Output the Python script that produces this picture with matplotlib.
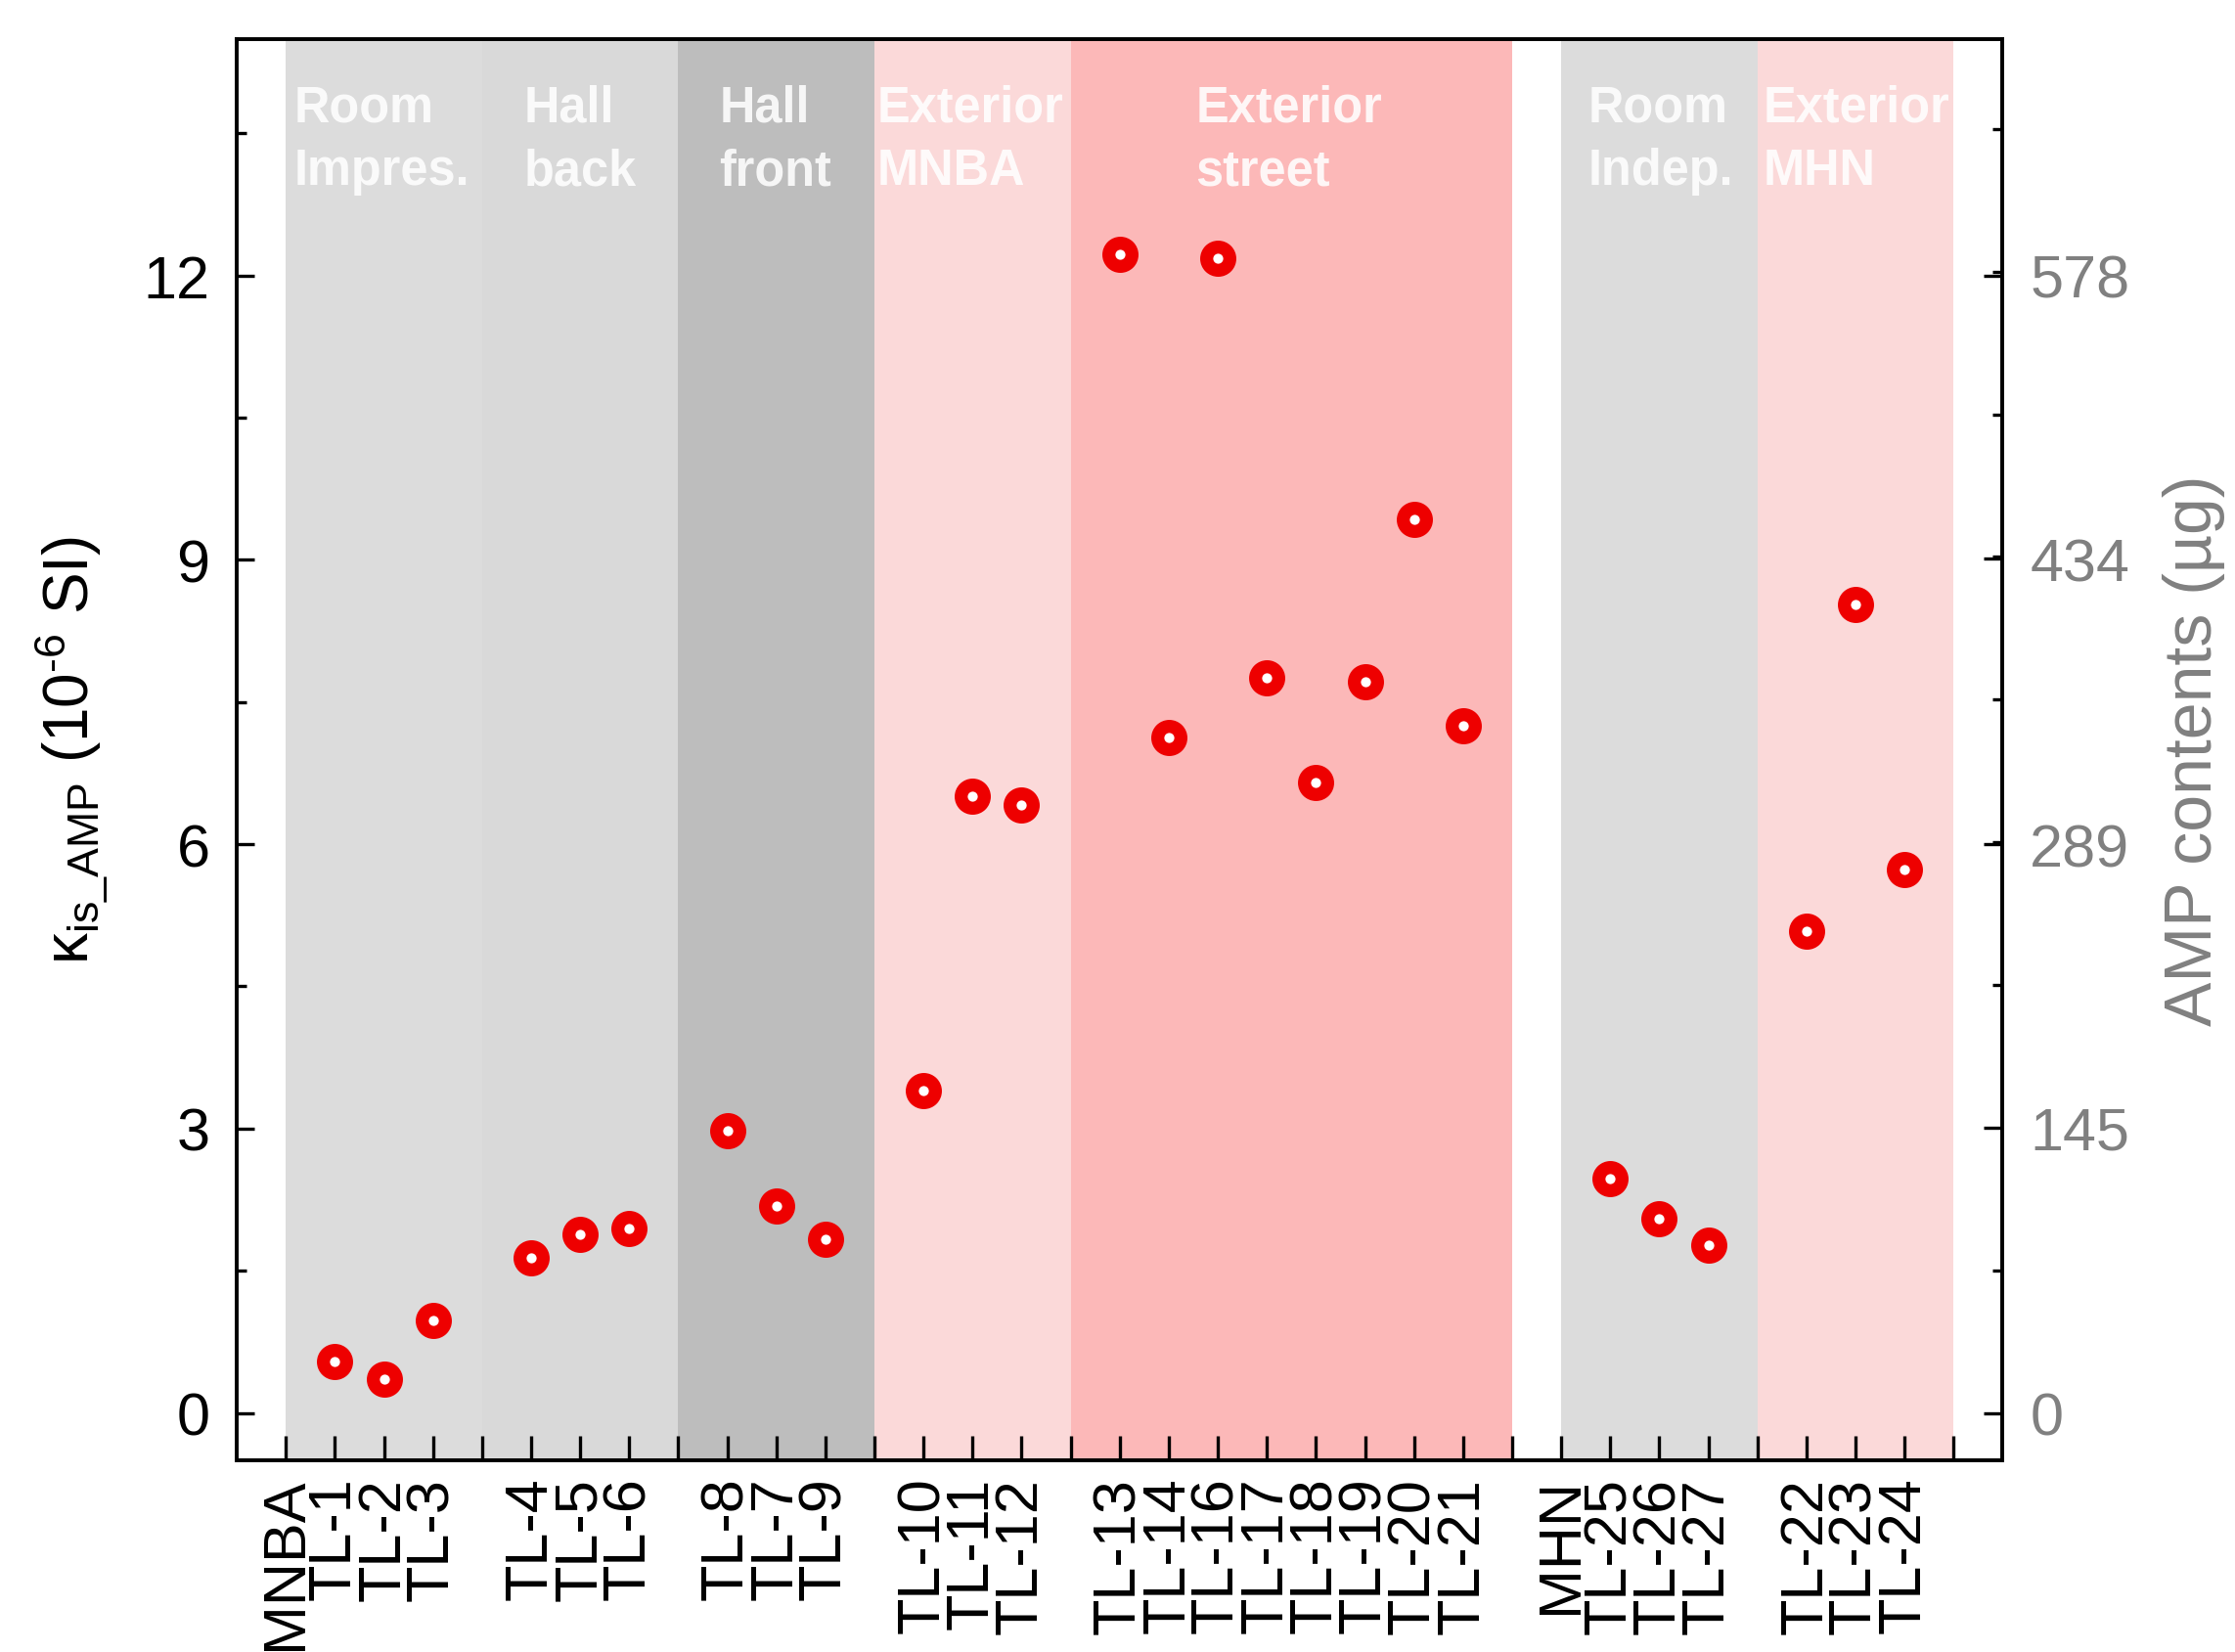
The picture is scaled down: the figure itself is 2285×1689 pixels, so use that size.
import matplotlib.pyplot as plt
from matplotlib.ticker import AutoMinorLocator, FixedLocator
from matplotlib import font_manager

plt.rcParams['font.family'] = ['Liberation Sans', 'DejaVu Sans']
plt.rcParams['mathtext.fontset'] = 'custom'
plt.rcParams['mathtext.rm'] = 'Liberation Sans'
plt.rcParams['mathtext.it'] = 'Liberation Sans:italic'

# x axis slots, blanks mark the borders between sites
tick_labels = ['MNBA', 'TL-1', 'TL-2', 'TL-3', '',
               'TL-4', 'TL-5', 'TL-6', '',
               'TL-8', 'TL-7', 'TL-9', '',
               'TL-10', 'TL-11', 'TL-12', '',
               'TL-13', 'TL-14', 'TL-16', 'TL-17', 'TL-18', 'TL-19', 'TL-20', 'TL-21', '',
               'MHN', 'TL-25', 'TL-26', 'TL-27', '',
               'TL-22', 'TL-23', 'TL-24', '']

samples = ['TL-1', 'TL-2', 'TL-3', 'TL-4', 'TL-5', 'TL-6', 'TL-8', 'TL-7', 'TL-9',
           'TL-10', 'TL-11', 'TL-12', 'TL-13', 'TL-14', 'TL-16', 'TL-17', 'TL-18',
           'TL-19', 'TL-20', 'TL-21', 'TL-25', 'TL-26', 'TL-27', 'TL-22', 'TL-23', 'TL-24']
kappa = [0.54, 0.36, 0.98, 1.64, 1.88, 1.95, 2.98, 2.18, 1.83,
         3.40, 6.51, 6.41, 12.23, 7.13, 12.18, 7.76, 6.65,
         7.71, 9.43, 7.25, 2.47, 2.05, 1.77, 5.08, 8.53, 5.73]

# sites: name, first and last sample, shading
sites = ['Room\nImpres.', 'Hall\nback', 'Hall\nfront', 'Exterior\nMNBA',
         'Exterior\nstreet', 'Room\nIndep.', 'Exterior\nMHN']
site_first = ['TL-1', 'TL-4', 'TL-8', 'TL-10', 'TL-13', 'TL-25', 'TL-22']
site_last = ['TL-3', 'TL-6', 'TL-9', 'TL-12', 'TL-21', 'TL-27', 'TL-24']
site_colors = ['#dcdcdc', '#d9d9d9', '#bdbdbd', '#fbd9d9', '#fcb8b8', '#dcdcdc', '#fbd9d9']
site_text_x = [0.17, 4.85, 8.84, 12.06, 18.55, 26.54, 30.12]

kappa_ticks = [0, 3, 6, 9, 12]
amp_ticks = [0, 145, 289, 434, 578]

# condensed face for the site names if one is installed
installed = {f.name for f in font_manager.fontManager.ttflist}
narrow = [n for n in ('Liberation Sans Narrow', 'DejaVu Sans Condensed') if n in installed]
if narrow:
    site_font = dict(family=[narrow[0], 'Liberation Sans'], fontsize=21, fontweight='bold')
else:
    site_font = dict(family=['Liberation Sans'], fontsize=18.2, fontweight='bold')

fig = plt.figure(figsize=(11.425, 8.45), dpi=200)
ax = fig.add_axes([0.106, 0.116, 0.79, 0.860])

for name, first, last, color, tx in zip(sites, site_first, site_last, site_colors, site_text_x):
    x0 = tick_labels.index(first) - 1
    x1 = tick_labels.index(last) + 1
    ax.axvspan(x0, x1, color=color, lw=0, zorder=0)
    ax.text(tx, 14.03, name, color='white', alpha=0.88, ha='left', va='top',
            linespacing=1.42, zorder=1, **site_font)

xs = [tick_labels.index(s) for s in samples]
ax.plot(xs, kappa, 'o', ms=8.5, mfc='white', mec='#ee0000', mew=4.8, zorder=3, clip_on=False)

ax.set_xlim(-1, 35)
ax.set_ylim(-0.5, 14.5)
ax.set_xticks(range(len(tick_labels)))
ax.set_xticklabels(tick_labels, rotation=90, fontsize=22)
ax.set_yticks(kappa_ticks)
ax.yaxis.set_minor_locator(AutoMinorLocator(2))
ax.tick_params(axis='y', which='major', direction='in', length=6.5, width=1.2, labelsize=22, pad=10)
ax.tick_params(axis='y', which='minor', direction='in', length=3.5, width=1.2)
ax.tick_params(axis='x', which='major', direction='in', length=9, width=1.2, pad=6)
ax.set_ylabel('κ$_{\\mathrm{is\\_AMP}}$ (10$^{\u2010 6}$ SI)', fontsize=23, labelpad=12)

# AMP contents share the kappa scale
scale = amp_ticks[-1] / kappa_ticks[-1]
ax2 = ax.twinx()
ax2.set_ylim(-0.5 * scale, 14.5 * scale)
ax2.yaxis.set_major_locator(FixedLocator(amp_ticks))
ax2.set_yticklabels([str(v) for v in amp_ticks])
ax2.yaxis.set_minor_locator(AutoMinorLocator(2))
ax2.tick_params(axis='y', which='major', direction='in', length=7, width=1.2,
                labelsize=22, labelcolor='#808080', pad=10)
ax2.tick_params(axis='y', which='minor', direction='in', length=3.5, width=1.2)
ax2.set_ylabel('AMP contents (µg)', fontsize=24.5, color='#808080', labelpad=12)

for a in (ax, ax2):
    for sp in a.spines.values():
        sp.set_linewidth(1.3)

fig.savefig('out.png', dpi=200)
